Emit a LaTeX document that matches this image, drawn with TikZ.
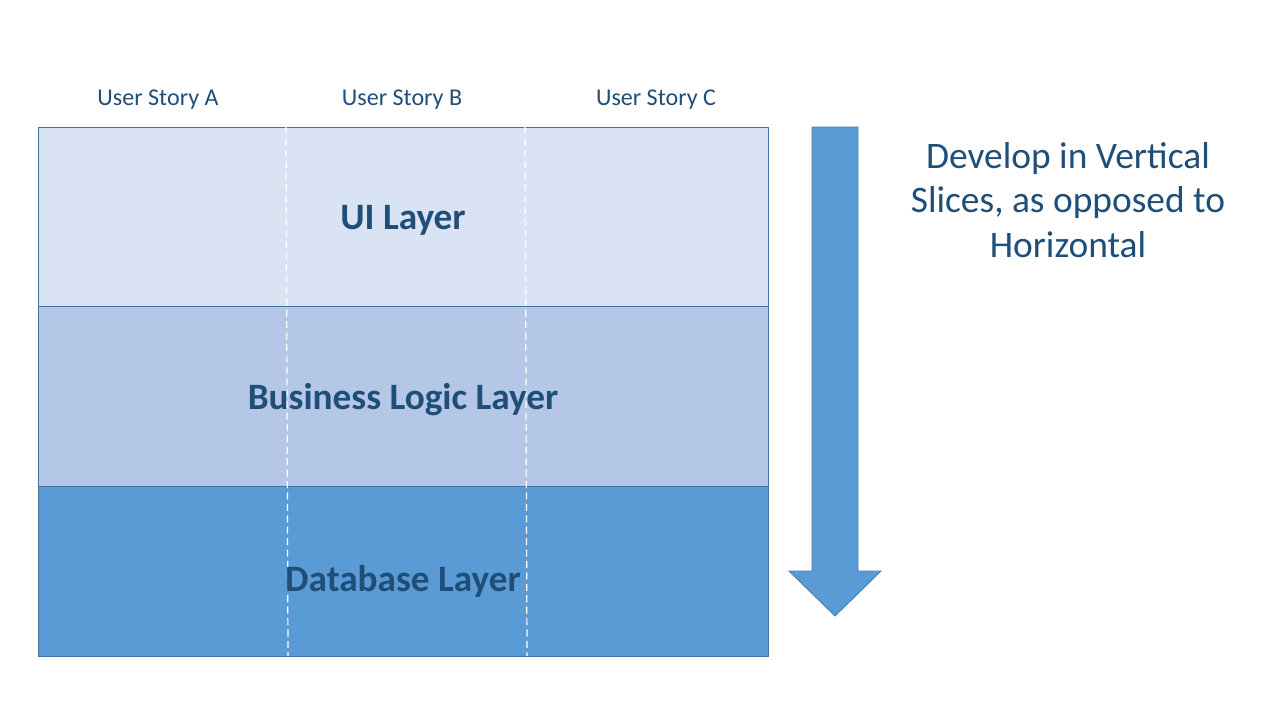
\documentclass[tikz,border=0pt]{standalone}
\usepackage{fontspec}
\setmainfont{Carlito}
\usetikzlibrary{positioning}
\definecolor{uifill}{HTML}{DAE3F3}
\definecolor{logicfill}{HTML}{B4C7E7}
\definecolor{dbfill}{HTML}{5B9BD5}
\definecolor{edgeblue}{HTML}{41719C}
\definecolor{textblue}{HTML}{1F4E79}
\tikzset{
  layer/.style={draw=edgeblue, line width=0.6pt, minimum width=730*0.02cm, minimum height=180*0.02cm, inner sep=0pt, anchor=north west},
  layername/.style={text=textblue, font=\fontsize{21.2}{25}\selectfont\bfseries},
  storylabel/.style={text=textblue, font=\fontsize{13.7}{16}\selectfont},
  slice/.style={draw=white, line width=0.7pt, dash pattern=on 4pt off 2.5pt}
}
\begin{document}
\begin{tikzpicture}[x=0.02cm,y=-0.02cm]
\useasboundingbox (0,0) rectangle (1280,720);

% layers
\node[layer, fill=uifill] (ui) at (38,127) {};
\node[layer, fill=logicfill] (logic) at (38,306) {};
\node[layer, fill=dbfill, minimum height=170*0.02cm] (db) at (38,486) {};

% vertical slices
\coordinate (s1top) at (286,127);
\coordinate (s1bot) at (288,656);
\coordinate (s2top) at (525,127);
\coordinate (s2bot) at (527,656);
\draw[slice] (s1top) -- (s1bot);
\draw[slice] (s2top) -- (s2bot);

% layer names
\node[layername] (uiname) at (403,220) {UI Layer};
\node[layername] (logicname) at (403,400) {Business Logic Layer};
\node[layername] (dbname) at (403,581) {Database Layer};

% stories
\node[storylabel] (storyA) at (158,100) {User Story A};
\node[storylabel] (storyB) at (402,100) {User Story B};
\node[storylabel] (storyC) at (656,100) {User Story C};

% arrow
\coordinate (a1) at (812,127);
\coordinate (a2) at (858,127);
\coordinate (a3) at (858,571);
\coordinate (a4) at (881,571);
\coordinate (tip) at (835,616);
\coordinate (a5) at (789,571);
\coordinate (a6) at (812,571);
\draw[fill=dbfill, draw=edgeblue!70!dbfill, line width=0.5pt] (a1) -- (a2) -- (a3) -- (a4) -- (tip) -- (a5) -- (a6) -- cycle;

\node[text=textblue, font=\fontsize{21.3}{25.5}\selectfont, align=center] (note) at (1068,200) {Develop in Vertical\\Slices, as opposed to\\Horizontal};
\end{tikzpicture}
\end{document}
